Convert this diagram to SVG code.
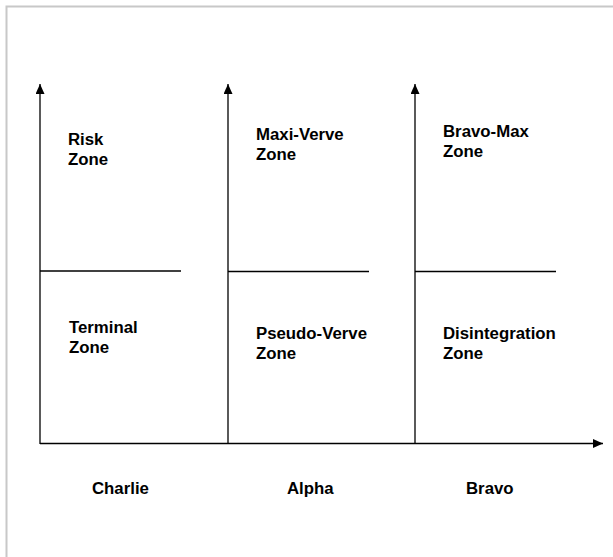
<svg xmlns="http://www.w3.org/2000/svg" width="613" height="557" viewBox="0 0 613 557">
<style>
.ax{stroke:#000;stroke-width:1.3;fill:none}
.dv{stroke:#000;stroke-width:1.3;fill:none}
text{font-family:"Liberation Sans",Arial,sans-serif;font-weight:bold;font-size:16.8px;fill:#000}
</style>
<defs>
<marker id="ah" viewBox="0 0 10 10" refX="10" refY="5" markerWidth="10" markerHeight="9" markerUnits="userSpaceOnUse" orient="auto" preserveAspectRatio="none">
<path d="M0,0 L10,5 L0,10 Z" fill="#000"/>
</marker>
</defs>
<rect x="0" y="0" width="613" height="557" fill="#fff"/>
<path d="M6.5,640 V6.5 H700" stroke="#c8c8c8" stroke-width="2" fill="none"/>
<g id="connectors">
<line class="ax" x1="40" y1="444" x2="40" y2="84" marker-end="url(#ah)"/>
<line class="ax" x1="228" y1="444" x2="228" y2="84" marker-end="url(#ah)"/>
<line class="ax" x1="415" y1="444" x2="415" y2="84" marker-end="url(#ah)"/>
<line class="ax" x1="40" y1="443.5" x2="603" y2="443.5" marker-end="url(#ah)"/>
<line class="dv" x1="40" y1="271" x2="181" y2="271"/>
<line class="dv" x1="228" y1="271.5" x2="369" y2="271.5"/>
<line class="dv" x1="415" y1="271.5" x2="556" y2="271.5"/>
</g>
<g id="risk"><text x="68" y="145">Risk<tspan x="68" dy="20">Zone</tspan></text></g>
<g id="maxi-verve"><text x="256" y="140">Maxi-Verve<tspan x="256" dy="20">Zone</tspan></text></g>
<g id="bravo-max"><text x="443" y="137">Bravo-Max<tspan x="443" dy="20">Zone</tspan></text></g>
<g id="terminal"><text x="69" y="333">Terminal<tspan x="69" dy="20">Zone</tspan></text></g>
<g id="pseudo-verve"><text x="256" y="339">Pseudo-Verve<tspan x="256" dy="20">Zone</tspan></text></g>
<g id="disintegration"><text x="443" y="339">Disintegration<tspan x="443" dy="20">Zone</tspan></text></g>
<g id="charlie"><text x="92" y="494">Charlie</text></g>
<g id="alpha"><text x="287" y="494">Alpha</text></g>
<g id="bravo"><text x="466" y="494">Bravo</text></g>
</svg>
